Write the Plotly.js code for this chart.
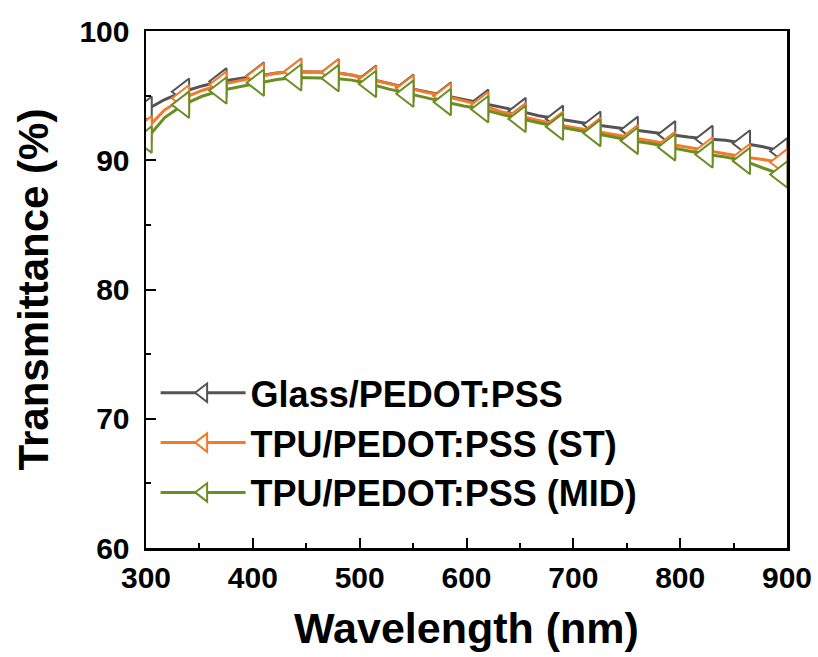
<!DOCTYPE html>
<html>
<head>
<meta charset="utf-8">
<script src="https://cdn.plot.ly/plotly-3.0.1.min.js"></script>
<style>html,body{margin:0;padding:0;background:#fff;}#chart{width:818px;height:657px;}</style>
</head>
<body>
<div id="chart"></div>
<script>
// Wavelength samples (nm); markers sit on every 35 nm (300, 335, ... 895)
const wavelength = [300, 317.5, 335, 352.5, 370, 387.5, 405, 422.5, 440, 457.5, 475, 492.5,
  510, 527.5, 545, 562.5, 580, 597.5, 615, 632.5, 650, 667.5, 685, 702.5, 720, 737.5,
  755, 772.5, 790, 807.5, 825, 842.5, 860, 877.5, 895, 900];
const markerWavelengths = [300, 335, 370, 405, 440, 475, 510, 545, 580, 615, 650, 685, 720, 755, 790, 825, 860, 895];

const glass = [93.9, 94.7, 95.3, 95.75, 96.1, 96.3, 96.55, 96.75, 96.85, 96.85, 96.8, 96.6,
  96.3, 95.95, 95.6, 95.3, 95.0, 94.75, 94.45, 94.1, 93.8, 93.45, 93.2, 92.95, 92.75, 92.55,
  92.35, 92.2, 92.0, 91.8, 91.65, 91.55, 91.3, 91.05, 90.7, 90.6];
const tpuST = [92.4, 93.9, 94.8, 95.4, 95.85, 96.15, 96.5, 96.75, 96.85, 96.85, 96.8, 96.6,
  96.25, 95.9, 95.55, 95.25, 94.95, 94.6, 94.25, 93.75, 93.4, 93.05, 92.75, 92.5, 92.25, 92.0,
  91.7, 91.45, 91.2, 90.95, 90.75, 90.5, 90.25, 90.05, 89.85, 89.75];
const tpuMID = [91.6, 93.3, 94.3, 94.95, 95.4, 95.7, 96.0, 96.25, 96.4, 96.4, 96.35, 96.2,
  95.9, 95.5, 95.15, 94.85, 94.5, 94.2, 93.95, 93.55, 93.2, 92.9, 92.6, 92.35, 92.1, 91.8,
  91.5, 91.3, 91.0, 90.7, 90.45, 90.25, 89.95, 89.4, 88.9, 88.75];

const seriesNames = ['Glass/PEDOT:PSS', 'TPU/PEDOT:PSS (ST)', 'TPU/PEDOT:PSS (MID)'];
const seriesValues = [glass, tpuST, tpuMID];
const seriesColors = ['#545454', '#F47A28', '#6B8E23'];

const xTicks = [300, 400, 500, 600, 700, 800, 900];
const yTicks = [60, 70, 80, 90, 100];

const markerIdx = wavelength.map((w, i) => markerWavelengths.includes(w) ? i : -1).filter(i => i >= 0);

const FONT = 'Liberation Sans, Arial, sans-serif';

const traces = seriesNames.map((name, i) => ({
  type: 'scatter',
  mode: 'lines+markers',
  name: name,
  x: wavelength,
  y: seriesValues[i],
  line: {color: seriesColors[i], width: 3},
  marker: {
    symbol: 'triangle-left',
    size: 23,
    color: 'white',
    line: {color: seriesColors[i], width: 2}
  },
  selectedpoints: markerIdx,
  selected: {marker: {opacity: 1}},
  unselected: {marker: {opacity: 0}},
  cliponaxis: true
}));

const layout = {
  width: 818,
  height: 657,
  margin: {l: 146, r: 31, t: 31, b: 109},
  paper_bgcolor: 'white',
  plot_bgcolor: 'white',
  showlegend: true,
  legend: {
    x: 0.015, y: 0.358, xanchor: 'left', yanchor: 'top',
    bgcolor: 'rgba(0,0,0,0)',
    font: {family: FONT, size: 36, weight: 'bold', color: '#000'},
    itemwidth: 85
  },
  xaxis: {
    range: [300, 900],
    tickvals: xTicks,
    ticktext: xTicks.map(String),
    ticks: 'inside', ticklen: 10, tickwidth: 2, tickcolor: '#000',
    minor: {dtick: 50, ticks: 'inside', ticklen: 5, tickwidth: 2, tickcolor: '#000'},
    showline: true, linewidth: 2.5, linecolor: '#000', mirror: true,
    showgrid: false, zeroline: false,
    ticklabelstandoff: 1,
    tickfont: {family: FONT, size: 30, weight: 'bold', color: '#000'},
    title: {text: 'Wavelength (nm)', font: {family: FONT, size: 43, weight: 'bold', color: '#000'}, standoff: 21}
  },
  yaxis: {
    range: [60, 100],
    tickvals: yTicks,
    ticktext: yTicks.map(String),
    ticks: 'inside', ticklen: 10, tickwidth: 2, tickcolor: '#000',
    minor: {dtick: 5, ticks: 'inside', ticklen: 5, tickwidth: 2, tickcolor: '#000'},
    showline: true, linewidth: 2.5, linecolor: '#000', mirror: true,
    showgrid: false, zeroline: false,
    ticklabelstandoff: 8,
    tickfont: {family: FONT, size: 30, weight: 'bold', color: '#000'},
    title: {text: 'Transmittance (%)', font: {family: FONT, size: 42, weight: 'bold', color: '#000'}, standoff: 18}
  }
};

Plotly.newPlot('chart', traces, layout, {displayModeBar: false, staticPlot: true});
</script>
</body>
</html>
